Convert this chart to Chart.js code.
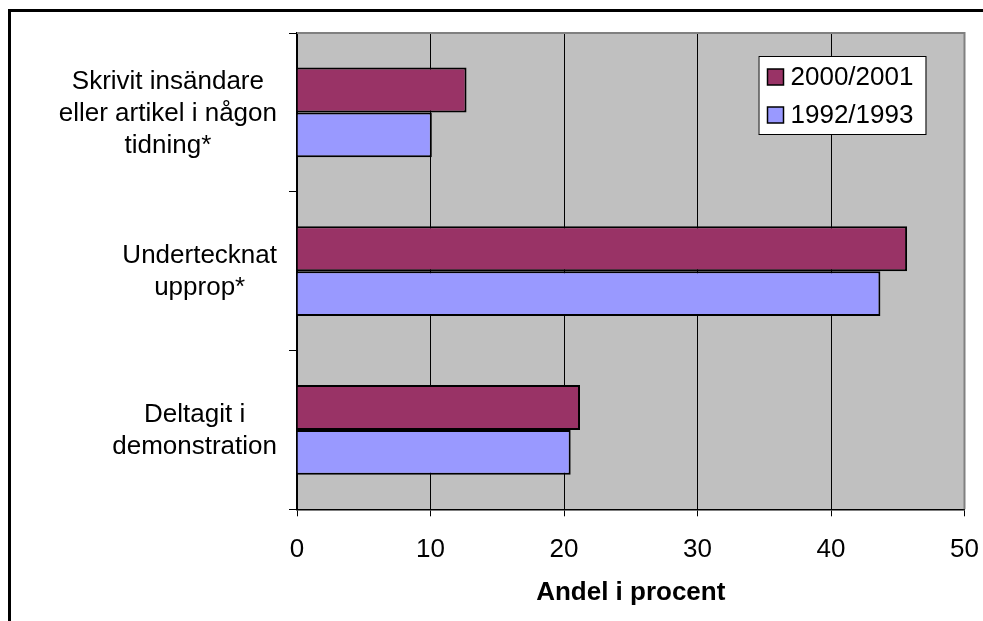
<!DOCTYPE html>
<html>
<head>
<meta charset="utf-8">
<script src="https://cdn.jsdelivr.net/npm/chart.js@4"></script>
<style>
  body { margin: 0; background: #fff; overflow: hidden; }
  .frame { position: absolute; left: 8px; top: 9px; width: 1100px; height: 800px; border: 3px solid #000; }
  #myChart { position: absolute; left: 0; top: 0; }
</style>
</head>
<body>
<div class="frame"></div>
<canvas id="myChart" width="983" height="621"></canvas>
<script>
const categories = [
  ["Skrivit insändare", "eller artikel i någon", "tidning*"],
  ["Undertecknat", "upprop*"],
  ["Deltagit i", "demonstration"],
];
const seriesLabels = ["2000/2001", "1992/1993"];
const values2000 = [12.7, 45.7, 21.2];
const values1992 = [10.1, 43.7, 20.5];
const xTicks = [0, 10, 20, 30, 40, 50];

const font = "'Liberation Sans', Arial, sans-serif";

// grey plot area, grey top/right border, category labels and the boxed legend
const plotBox = {
  id: "plotBox",
  beforeDraw(chart) {
    const { ctx, chartArea: a } = chart;
    ctx.save();
    ctx.fillStyle = "#C0C0C0";
    ctx.fillRect(a.left, a.top, a.right - a.left, a.bottom - a.top);
    ctx.restore();
  },
  afterDraw(chart) {
    const { ctx, chartArea: a } = chart;
    ctx.save();
    ctx.strokeStyle = "#808080";
    ctx.lineWidth = 2;
    ctx.beginPath();
    ctx.moveTo(a.left, a.top);
    ctx.lineTo(a.right, a.top);
    ctx.lineTo(a.right, a.bottom);
    ctx.stroke();

    // category labels: each block right aligned, lines centred in the block
    const yScale = chart.scales.y;
    ctx.font = "26px " + font;
    ctx.fillStyle = "#000";
    ctx.textAlign = "center";
    ctx.textBaseline = "middle";
    chart.data.labels.forEach((lines, i) => {
      const cy = yScale.getPixelForTick(i);
      const w = Math.max(...lines.map((l) => ctx.measureText(l).width));
      const cx = yScale.right - 20 - w / 2;
      lines.forEach((l, j) => {
        ctx.fillText(l, cx, cy + 1 + (j - (lines.length - 1) / 2) * 32);
      });
    });

    // legend
    const bx = a.right - 206, by = a.top + 23, bw = 167, bh = 78;
    ctx.fillStyle = "#fff";
    ctx.fillRect(bx, by, bw, bh);
    ctx.strokeStyle = "#000";
    ctx.lineWidth = 1;
    ctx.strokeRect(bx + 0.5, by + 0.5, bw, bh);
    chart.data.datasets.forEach((ds, i) => {
      const cy = by + 21 + i * 38;
      ctx.fillStyle = ds.backgroundColor;
      ctx.fillRect(bx + 9, cy - 8, 16, 16);
      ctx.lineWidth = 1.5;
      ctx.strokeRect(bx + 9, cy - 8, 16, 16);
      ctx.fillStyle = "#000";
      ctx.textBaseline = "middle";
      ctx.textAlign = "left";
      ctx.fillText(ds.label, bx + 32, cy + 1);
    });
    ctx.restore();
  },
};

const ctx = document.getElementById("myChart");
new Chart(ctx, {
  type: "bar",
  data: {
    labels: categories,
    datasets: [
      {
        label: seriesLabels[0],
        data: values2000,
        backgroundColor: "#993366",
        borderColor: "#000",
        borderWidth: 2,
      },
      {
        label: seriesLabels[1],
        data: values1992,
        backgroundColor: "#9999FF",
        borderColor: "#000",
        borderWidth: 2,
      },
    ],
  },
  options: {
    indexAxis: "y",
    responsive: false,
    animation: false,
    devicePixelRatio: 1,
    categoryPercentage: 0.565,
    barPercentage: 1,
    layout: { padding: { left: 0, top: 33, right: 18.5, bottom: 0 } },
    plugins: {
      legend: { display: false },
      tooltip: { enabled: false },
    },
    scales: {
      x: {
        type: "linear",
        min: xTicks[0],
        max: xTicks[xTicks.length - 1],
        afterBuildTicks: (scale) => {
          scale.ticks = xTicks.map((v) => ({ value: v }));
        },
        afterFit: (scale) => {
          scale.height = 111.7;
          scale.paddingLeft = 0;
          scale.paddingRight = 0;
        },
        grid: {
          color: (c) => (c.tick && c.tick.value === 50 ? "#808080" : "#000"),
          lineWidth: 1,
          tickColor: "#000",
          tickLength: 7,
        },
        border: { color: "#000", width: 1.5 },
        ticks: {
          color: "#000",
          padding: 18,
          font: { family: font, size: 26 },
        },
        title: {
          display: true,
          text: "Andel i procent",
          color: "#000",
          font: { family: font, size: 26, weight: "bold" },
          padding: { top: 0, bottom: 13 },
        },
      },
      y: {
        type: "category",
        afterFit: (scale) => {
          scale.width = 297;
          scale.paddingTop = 0;
          scale.paddingBottom = 0;
        },
        grid: {
          offset: true,
          drawOnChartArea: false,
          color: "#000",
          tickLength: 8,
        },
        border: { color: "#000", width: 1.5 },
        ticks: { display: false },
      },
    },
  },
  plugins: [plotBox],
});
</script>
</body>
</html>
